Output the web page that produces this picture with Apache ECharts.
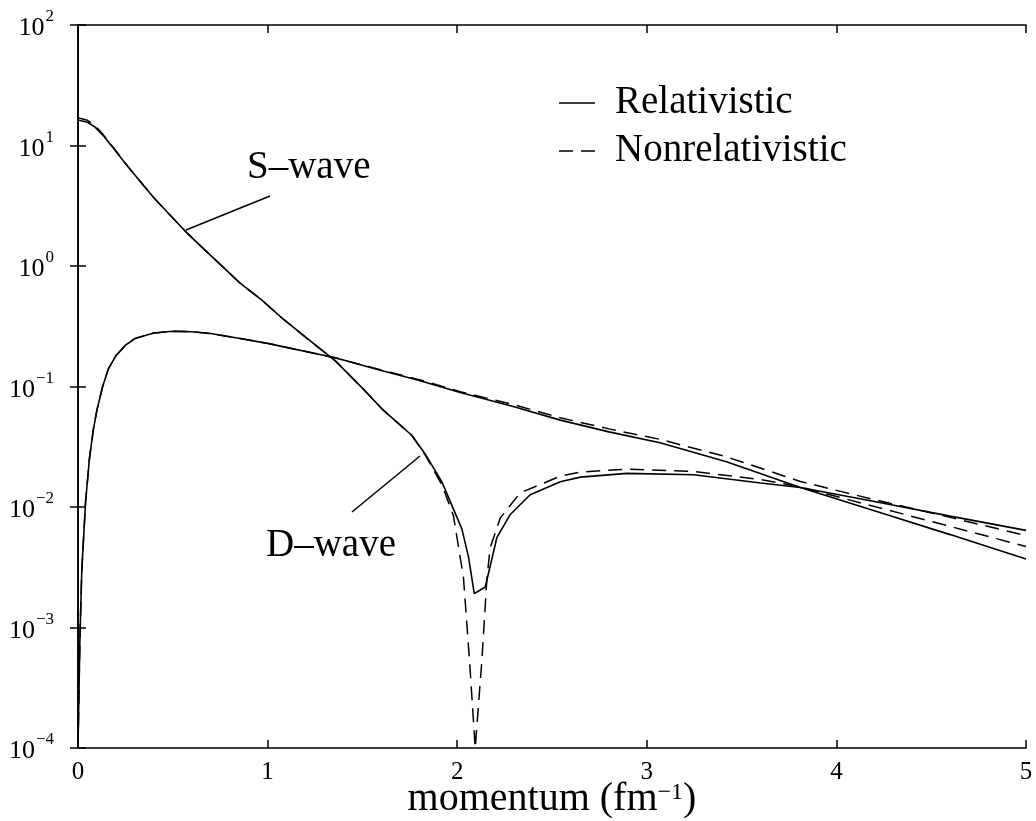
<!DOCTYPE html>
<html>
<head>
<meta charset="utf-8">
<title>Deuteron momentum-space wave functions</title>
<script src="https://cdn.jsdelivr.net/npm/echarts@6/dist/echarts.min.js"></script>
<style>
  html, body { margin: 0; padding: 0; background: #fff; }
  #chart { width: 1036px; height: 821px; }
</style>
</head>
<body>
<div id="chart"></div>
<script>
// Momentum grid (fm^-1) and wave-function values for each curve
const sRelP = [0, 0.05, 0.09, 0.135, 0.185, 0.25, 0.3, 0.4, 0.5, 0.565, 0.65, 0.75, 0.855, 0.97, 1.08, 1.2, 1.356, 1.5, 1.61, 1.76, 1.83, 1.92, 2.025, 2.06, 2.09, 2.148, 2.209, 2.28, 2.385, 2.544, 2.65, 2.895, 3.247, 3.6, 3.81, 4.2, 4.6, 5];
const sRelV = [16.3, 15.6, 14.2, 12.0, 9.6, 7.1, 5.7, 3.68, 2.5, 1.95, 1.45, 1.03, 0.72, 0.52, 0.365, 0.257, 0.164, 0.097, 0.0636, 0.0394, 0.0277, 0.0161, 0.00656, 0.00382, 0.00191, 0.00217, 0.00556, 0.00867, 0.01265, 0.0162, 0.0177, 0.019, 0.0185, 0.0158, 0.0145, 0.0093, 0.0059, 0.0037];

const sNonP = [0, 0.05, 0.09, 0.135, 0.185, 0.25, 0.3, 0.4, 0.5, 0.565, 0.65, 0.75, 0.855, 0.97, 1.08, 1.2, 1.356, 1.5, 1.61, 1.76, 1.83, 1.92, 1.98, 2.033, 2.065, 2.095, 2.13, 2.157, 2.174, 2.227, 2.332, 2.543, 2.65, 2.895, 3.247, 3.6, 3.8, 4.2, 4.6, 5];
const sNonV = [17.0, 16.2, 14.6, 12.2, 9.7, 7.1, 5.7, 3.68, 2.5, 1.95, 1.45, 1.03, 0.72, 0.52, 0.365, 0.257, 0.164, 0.097, 0.0636, 0.0394, 0.0272, 0.0152, 0.0085, 0.0026, 0.00053, 0.0001, 0.00053, 0.0026, 0.0046, 0.0081, 0.0131, 0.018, 0.0195, 0.0206, 0.0197, 0.0169, 0.0148, 0.0101, 0.0069, 0.0047];

const dP = [0, 0.01, 0.02, 0.04, 0.06, 0.08, 0.1, 0.13, 0.16, 0.2, 0.25, 0.3, 0.4, 0.5, 0.6, 0.7, 0.855, 1.0, 1.356, 1.6, 1.8, 2.016, 2.3, 2.544, 2.8, 3.07, 3.42, 3.81, 4.2, 4.6, 5];
const dRelV = [0.0001, 0.0008, 0.003, 0.011, 0.025, 0.043, 0.064, 0.1, 0.14, 0.18, 0.22, 0.25, 0.278, 0.287, 0.285, 0.275, 0.25, 0.228, 0.173, 0.136, 0.112, 0.089, 0.068, 0.0526, 0.042, 0.0341, 0.0237, 0.0145, 0.0111, 0.0084, 0.0064];
const dNonV = [0.0001, 0.0008, 0.003, 0.011, 0.025, 0.043, 0.064, 0.1, 0.14, 0.18, 0.22, 0.25, 0.278, 0.287, 0.285, 0.275, 0.25, 0.228, 0.173, 0.137, 0.114, 0.0905, 0.0705, 0.055, 0.0445, 0.0364, 0.0261, 0.0163, 0.0115, 0.0082, 0.0058];

const xTicks = [0, 1, 2, 3, 4, 5];
const yRange = [1e-4, 1e2];
const legendNames = ['Relativistic', 'Nonrelativistic'];
const curveLabels = ['S–wave', 'D–wave'];
const xTitle = '{a|momentum (fm}{s|−1}{a|)}';

const SERIF = '"Liberation Serif", "DejaVu Serif", serif';
const pairs = (p, v) => p.map((x, i) => [x, v[i]]);

const DASH = [14, 8];
const solid = { color: '#000', width: 1.6, type: 'solid' };
const dashed = { color: '#000', width: 1.5, type: DASH };

function curve(name, p, v, style) {
  return {
    name: name, type: 'line', data: pairs(p, v),
    showSymbol: false, symbol: 'none', smooth: false, clip: true,
    lineStyle: style, itemStyle: { color: '#000' },
    emphasis: { disabled: true }, silent: true, animation: false,
    xAxisIndex: 0, yAxisIndex: 0
  };
}

const chart = echarts.init(document.getElementById('chart'), null, { renderer: 'canvas' });

const tickStyle = { show: true, inside: true, length: 8, lineStyle: { color: '#000', width: 1.5 } };
const lineStyleAxis = { show: true, lineStyle: { color: '#000', width: 1.6 } };

// legend drawn as plain graphics: a short sample line and a label per entry
function legendRow(y, label, lineDash) {
  return [
    { type: 'line', shape: { x1: 559, y1: y, x2: 595, y2: y },
      style: { stroke: '#000', lineWidth: 1.6, lineDash: lineDash }, silent: true },
    { type: 'text', x: 615, y: y, silent: true,
      style: { text: label, font: '39px ' + SERIF, fill: '#000', verticalAlign: 'middle', align: 'left' } }
  ];
}

chart.setOption({
  animation: false,
  backgroundColor: '#fff',
  grid: { left: 78, right: 10, top: 25, bottom: 73, containLabel: false, outerBoundsMode: 'none' },
  xAxis: [{
    type: 'value', position: 'bottom', min: xTicks[0], max: xTicks[xTicks.length - 1], interval: 1,
    axisLine: lineStyleAxis, axisTick: tickStyle, splitLine: { show: false },
    axisLabel: { fontFamily: SERIF, fontSize: 25, color: '#000', margin: 12 }
  }, {
    type: 'value', position: 'top', min: xTicks[0], max: xTicks[xTicks.length - 1], interval: 1,
    axisLine: lineStyleAxis, axisTick: tickStyle, axisLabel: { show: false }, splitLine: { show: false }
  }],
  yAxis: [{
    type: 'log', logBase: 10, min: yRange[0], max: yRange[1], splitNumber: 6, position: 'left',
    axisLine: lineStyleAxis, axisTick: tickStyle, splitLine: { show: false }, minorTick: { show: false },
    axisLabel: {
      margin: 24, color: '#000', fontFamily: SERIF, fontSize: 25,
      formatter: function (v) {
        const e = Math.round(Math.log10(v));
        return '{b|10}{s|' + (e < 0 ? '−' + (-e) : e) + '}';
      },
      rich: {
        b: { fontFamily: SERIF, fontSize: 26, color: '#000', verticalAlign: 'bottom' },
        s: { fontFamily: SERIF, fontSize: 17, color: '#000', verticalAlign: 'bottom', padding: [0, 0, 16, 1] }
      }
    }
  }, {
    type: 'log', logBase: 10, min: yRange[0], max: yRange[1], splitNumber: 6, position: 'right',
    axisLine: lineStyleAxis, axisTick: tickStyle, axisLabel: { show: false }, splitLine: { show: false }
  }],
  series: [
    curve(legendNames[0], sRelP, sRelV, solid),
    curve(legendNames[1], sNonP, sNonV, dashed),
    curve(legendNames[0], dP, dRelV, solid),
    curve(legendNames[1], dP, dNonV, dashed)
  ],
  graphic: [].concat(
    legendRow(103, legendNames[0], null),
    legendRow(151, legendNames[1], DASH),
    [
      { type: 'text', left: 247, top: 148, style: { text: curveLabels[0], font: '39px ' + SERIF, fill: '#000' }, silent: true },
      { type: 'line', shape: { x1: 186, y1: 230, x2: 270, y2: 196 }, style: { stroke: '#000', lineWidth: 1.5 }, silent: true },
      { type: 'text', left: 266, top: 526, style: { text: curveLabels[1], font: '39px ' + SERIF, fill: '#000' }, silent: true },
      { type: 'line', shape: { x1: 352, y1: 512, x2: 420, y2: 456 }, style: { stroke: '#000', lineWidth: 1.5 }, silent: true },
      // x-axis title with superscript unit exponent
      { type: 'text', x: 552, y: 779, silent: true,
        style: {
          text: xTitle, align: 'center', verticalAlign: 'top',
          rich: {
            a: { fontFamily: SERIF, fontSize: 40, fill: '#000', verticalAlign: 'bottom' },
            s: { fontFamily: SERIF, fontSize: 24, fill: '#000', verticalAlign: 'bottom', padding: [0, 0, 14, 0] }
          }
        } }
    ]
  )
});
</script>
</body>
</html>
